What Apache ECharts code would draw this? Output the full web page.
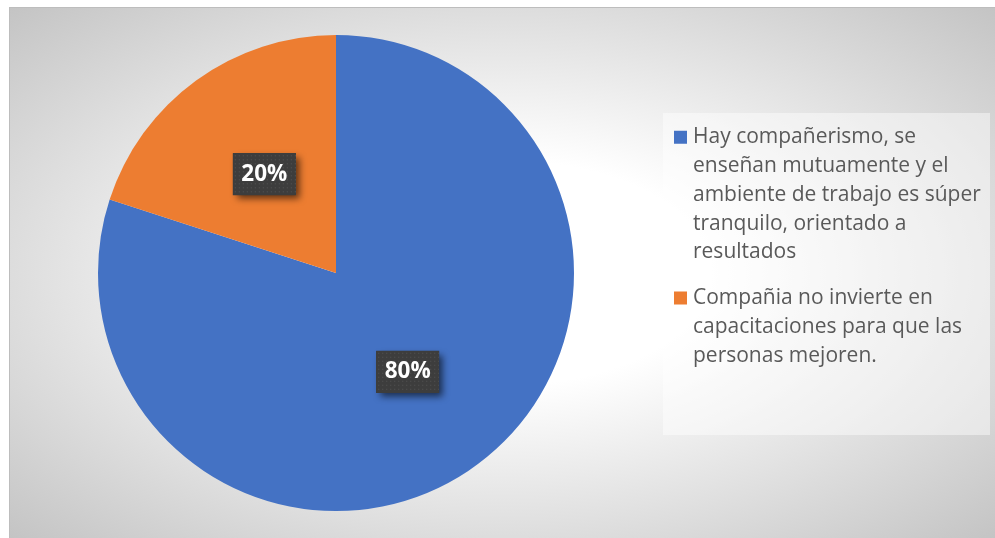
<!DOCTYPE html>
<html>
<head>
<meta charset="utf-8">
<script src="https://cdn.jsdelivr.net/npm/echarts@6/dist/echarts.min.js"></script>
<style>
  html, body { margin: 0; padding: 0; background: #ffffff; }
  #wrap { position: relative; width: 995px; height: 538px; overflow: hidden; }
  #frame {
    position: absolute; left: 9px; top: 7px; width: 986px; height: 531px;
    box-sizing: border-box;
    border-top: 1px solid #bdbdbd; border-left: 1px solid #bdbdbd;
    background: radial-gradient(ellipse farthest-corner at 50% 50%, #ffffff 30%, #c4c4c4 100%);
  }
  #chart { position: absolute; left: 0; top: 0; width: 995px; height: 538px; }
</style>
</head>
<body>
<div id="wrap">
  <div id="frame"></div>
  <div id="chart"></div>
</div>
<script>
// Survey answers and their shares (percent)
const categories = [
  'Hay compañerismo, se enseñan mutuamente y el ambiente de trabajo es súper tranquilo, orientado a resultados',
  'Compañia no invierte en capacitaciones para que las personas mejoren.'
];
const shares = [80, 20];
const sliceColors = ['#4472C4', '#ED7D31'];

// Legend text broken into lines
const legendLines = [
  ['Hay compañerismo, se', 'enseñan mutuamente y el', 'ambiente de trabajo es súper', 'tranquilo, orientado a', 'resultados'],
  ['Compañia no invierte en', 'capacitaciones para que las', 'personas mejoren.']
];

const LINE_H = 28.8;
const ITEM_H = LINE_H * 5;

// Square legend marker aligned with the first text line of each entry
function markerPath(lineCount) {
  const c = ITEM_H / 2 - (lineCount - 1) / 2 * LINE_H;
  const t = (c - 6.5).toFixed(2), b = (c + 6.5).toFixed(2);
  return 'path://M0,0 L0.001,0 L0,0.001 Z M0,' + t + ' L13,' + t + ' L13,' + b + ' L0,' + b +
         ' Z M13,' + ITEM_H + ' L12.999,' + ITEM_H + ' L13,' + (ITEM_H - 0.001) + ' Z';
}

// Dark dotted tile behind the percentage labels
function dottedTile(w, h) {
  const cv = document.createElement('canvas');
  cv.width = w; cv.height = h;
  const ctx = cv.getContext('2d');
  ctx.fillStyle = '#3d3d3d';
  ctx.fillRect(0, 0, w, h);
  ctx.fillStyle = '#555555';
  for (let y = 2; y < h; y += 4) {
    for (let x = 2; x < w; x += 4) {
      ctx.fillRect(x, y, 1, 1);
    }
  }
  return cv;
}

const LABEL_W = 63, LABEL_H = 42;
const tile = dottedTile(LABEL_W, LABEL_H);

const chart = echarts.init(document.getElementById('chart'), null, { renderer: 'canvas' });

chart.setOption({
  backgroundColor: 'transparent',
  animation: false,
  graphic: [{
    type: 'rect',
    shape: { x: 663, y: 113, width: 327, height: 322 },
    style: { fill: 'rgba(255,255,255,0.45)' },
    silent: true,
    z: -1
  }],
  legend: {
    orient: 'vertical',
    left: 674,
    top: 122.8,
    padding: 0,
    itemWidth: 13,
    itemHeight: ITEM_H,
    itemGap: -12,
    selectedMode: false,
    itemStyle: { borderWidth: 0 },
    data: categories.map((name, i) => ({ name: name, icon: markerPath(legendLines[i].length) })),
    formatter: name => legendLines[categories.indexOf(name)].join('\n'),
    textStyle: {
      fontFamily: 'Open Sans',
      fontSize: 21,
      lineHeight: LINE_H,
      color: '#595959',
      padding: [0, 0, 0, 1]
    }
  },
  series: [{
    type: 'pie',
    center: [336, 273],
    radius: 238,
    startAngle: 90,
    clockwise: true,
    avoidLabelOverlap: false,
    itemStyle: { borderWidth: 0 },
    emphasis: { disabled: true },
    label: {
      show: true,
      position: 'inside',
      formatter: p => '{t|' + p.value + '%}',
      padding: 0,
      backgroundColor: '#3d3d3d',
      shadowColor: 'rgba(0,0,0,0.6)',
      shadowBlur: 7,
      shadowOffsetX: 4,
      shadowOffsetY: 4,
      rich: {
        t: {
          color: '#ffffff',
          fontFamily: 'Open Sans',
          fontWeight: 'bold',
          fontSize: 22.5,
          width: LABEL_W,
          height: LABEL_H,
          lineHeight: LABEL_H,
          align: 'center',
          backgroundColor: { image: tile }
        }
      }
    },
    labelLine: { show: false },
    data: categories.map((name, i) => ({
      name: name,
      value: shares[i],
      itemStyle: { color: sliceColors[i] }
    }))
  }]
});
</script>
</body>
</html>
